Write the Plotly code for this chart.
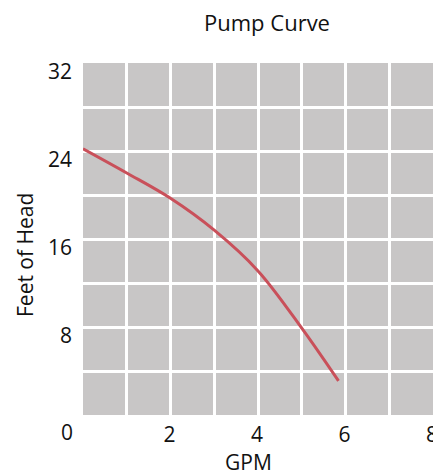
import plotly.graph_objects as go

gpm = [0, 1, 2, 3, 4, 5, 5.84]
head = [24.2, 22.0, 19.7, 16.8, 13.1, 7.9, 3.1]

x_ticks = [2, 4, 6, 8]
y_ticks = [8, 16, 24, 32]
corner_label = "0"

font = "Open Sans, Noto Sans, sans-serif"
txt = "#111111"

W, H = 433, 468  # page body has an 8px margin

fig = go.Figure()
fig.add_trace(go.Scatter(
    x=gpm, y=head, mode="lines",
    line=dict(color="#c9505a", width=3, shape="spline", smoothing=1),
    hoverinfo="skip", showlegend=False,
))

fig.update_layout(
    width=W, height=H,
    margin=dict(l=75, r=8, t=55, b=61),
    paper_bgcolor="white",
    plot_bgcolor="#c8c6c6",
    font=dict(family=font, color=txt, size=21),
    title=dict(text="Pump Curve", xref="container", x=259 / W, xanchor="center",
               yref="container", y=1 - 15 / H, yanchor="middle",
               font=dict(size=22, family=font, color=txt)),
    showlegend=False,
)

fig.update_xaxes(
    range=[0, 8], tickvals=x_ticks, ticktext=[str(v) for v in x_ticks],
    showgrid=True, gridcolor="white", gridwidth=3,
    minor=dict(dtick=1, tick0=0, showgrid=True, gridcolor="white", gridwidth=3),
    zeroline=False, showline=False, ticks="", ticklabelstandoff=5, ticklabelshift=-1,
    automargin=False, fixedrange=True,
)
fig.update_yaxes(
    range=[0, 32], tickvals=y_ticks, ticktext=[str(v) for v in y_ticks],
    showgrid=True, gridcolor="white", gridwidth=3,
    minor=dict(dtick=4, tick0=0, showgrid=True, gridcolor="white", gridwidth=3),
    zeroline=False, showline=False, ticks="", ticklabelstandoff=10, ticklabelshift=9,
    automargin=False, fixedrange=True,
)

fig.add_annotation(
    text=corner_label, xref="paper", yref="paper", x=0, y=0,
    xanchor="center", yanchor="middle", xshift=-16, yshift=-17,
    showarrow=False, font=dict(size=21, family=font, color=txt),
)
fig.add_annotation(
    text="GPM", xref="paper", yref="paper", x=0.5, y=0,
    xanchor="center", yanchor="middle", xshift=-10, yshift=-47,
    showarrow=False, font=dict(size=21, family=font, color=txt),
)
fig.add_annotation(
    text="Feet of Head", xref="paper", yref="paper", x=0, y=0.5,
    xanchor="center", yanchor="middle", xshift=-58, yshift=-16, textangle=-90,
    showarrow=False, font=dict(size=21, family=font, color=txt),
)

fig.write_html("out.html")
